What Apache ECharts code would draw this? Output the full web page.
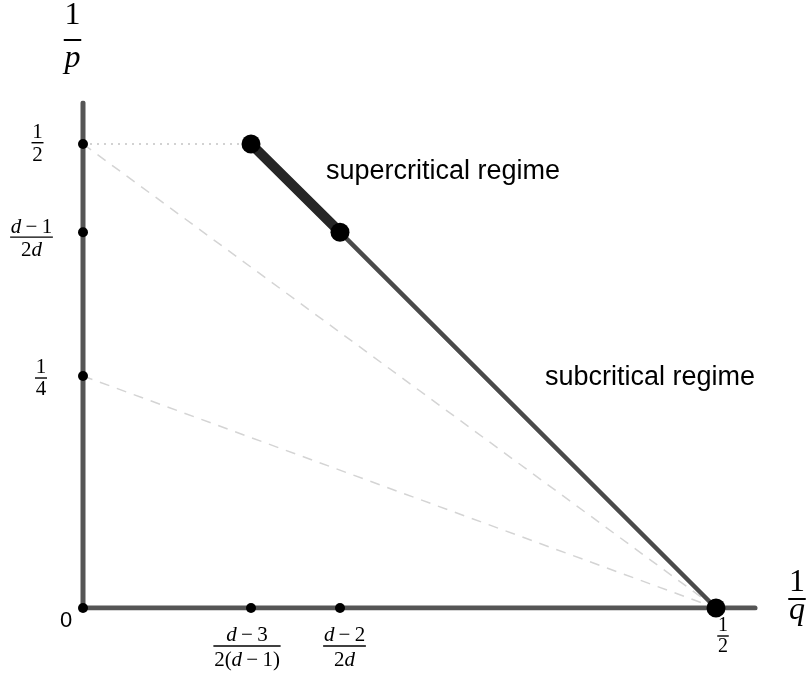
<!DOCTYPE html>
<html><head><meta charset="utf-8">
<script src="https://cdn.jsdelivr.net/npm/echarts@6/dist/echarts.min.js"></script>
<style>html,body{margin:0;padding:0;background:#fff}#c{width:806px;height:675px}</style>
</head><body><div id="c"></div>
<script>
// ---------- data ----------
const X_MAX = 0.5308;            // right end of the 1/q axis
const Y_MAX = 0.5442;            // top end of the 1/p axis
const yTickValues = [0.5, 0.405, 0.25];
const yTickNum = ['1', 'd−1', '1'];
const yTickDen = ['2', '2d', '4'];
const xTickValues = [0.1327, 0.203, 0.5];
const xTickNum = ['d−3', 'd−2', '1'];
const xTickDen = ['2(d−1)', '2d', '2'];
const originLabel = '0';
const boundaryQ = [0.1327, 0.203, 0.5];   // corner points of the boundary line
const boundaryP = [0.5, 0.405, 0];
const dashFromP = [0.5, 0.25];            // dashed guides from (0,p) to (1/2,0)
const dashToQ = 0.5;
const regionLabels = ['supercritical regime', 'subcritical regime'];
const regionQ = [0.1919, 0.3649];
const regionP = [0.4703, 0.2480];
const axisTitleNum = ['1', '1'];
const axisTitleDen = ['q', 'p'];

// ---------- layout / style (pixel offsets of labels) ----------
// [dx, dy, fontSize, numerator baseline gap, denominator baseline gap, bar width]
const yTickLayout = [[-45.5, -1.3, 21, 3.4, 19.5, 1.4], [-51.5, 5, 21, 2.5, 20, 1.4], [-42, 2, 21, 3.4, 18.5, 1.4]];
const xTickLayout = [[-4, 38, 21, 3, 21.5, 1.4], [4.5, 38, 21, 3, 21.5, 1.4], [7, 28, 20, 4, 17.5, 1.4]];
const axisTitleLayout = [[42, -9, 32, 6, 22, 2], [-10.5, -63, 32, 14, 29, 2]];
const SERIF = '"Liberation Serif", "DejaVu Serif", serif';
const SANS = '"Liberation Sans", Arial, sans-serif';

// ---------- helpers ----------
const ctx = document.createElement('canvas').getContext('2d');
function typeset(s) { return s.replace(/−/g, '\u2009−\u2009'); }
function segs(s) { return s.match(/[a-z]+|[^a-z]+/g) || []; }
function measure(s, fs) {
  let w = 0;
  segs(typeset(s)).forEach(t => {
    ctx.font = (/[a-z]/.test(t) ? 'italic ' : '') + fs + 'px ' + SERIF;
    w += ctx.measureText(t).width;
  });
  return w;
}
function toRich(s) { return segs(typeset(s)).map(t => (/[a-z]/.test(t) ? '{i|' : '{r|') + t + '}').join(''); }
function richFor(fs) {
  return {
    i: { fontFamily: SERIF, fontStyle: 'italic', fontSize: fs, lineHeight: fs, fill: '#000', color: '#000' },
    r: { fontFamily: SERIF, fontSize: fs, lineHeight: fs, fill: '#000', color: '#000' }
  };
}

// build fraction items
const fracItems = [];
function addFrac(x, y, num, den, L) {
  fracItems.push({ x: x, y: y, num: num, den: den, dx: L[0], dy: L[1], fs: L[2], gn: L[3], gd: L[4], lw: L[5] });
}
yTickValues.forEach((v, i) => addFrac(0, v, yTickNum[i], yTickDen[i], yTickLayout[i]));
xTickValues.forEach((v, i) => addFrac(v, 0, xTickNum[i], xTickDen[i], xTickLayout[i]));
addFrac(X_MAX, 0, axisTitleNum[0], axisTitleDen[0], axisTitleLayout[0]);
addFrac(0, Y_MAX, axisTitleNum[1], axisTitleDen[1], axisTitleLayout[1]);

const smallDots = yTickValues.map(v => [0, v]).concat([[0, 0]], xTickValues.slice(0, 2).map(v => [v, 0]));
const bigDots = boundaryQ.map((q, i) => [q, boundaryP[i]]);

const chart = echarts.init(document.getElementById('c'), null, { renderer: 'canvas' });
const series = [];
const lineCommon = { type: 'line', showSymbol: false, silent: true };
// axes as thick lines
series.push(Object.assign({}, lineCommon, { data: [[0, 0], [X_MAX, 0]], z: 3, lineStyle: { color: '#555', width: 5, cap: 'round', opacity: 1 } }));
series.push(Object.assign({}, lineCommon, { data: [[0, 0], [0, Y_MAX]], z: 3, lineStyle: { color: '#555', width: 5, cap: 'round', opacity: 1 } }));
// dashed guides
dashFromP.forEach(p => series.push(Object.assign({}, lineCommon, { data: [[0, p], [dashToQ, 0]], z: 2,
  lineStyle: { color: '#d4d4d4', width: 1.5, type: [10, 8] } })));
// dotted guide
series.push(Object.assign({}, lineCommon, { data: [[0, boundaryP[0]], [boundaryQ[0], boundaryP[0]]], z: 2,
  lineStyle: { color: '#c4c4c4', width: 1.5, type: [2, 5] } }));
// boundary: thin part then thick part
series.push(Object.assign({}, lineCommon, { data: [[boundaryQ[1], boundaryP[1]], [boundaryQ[2], boundaryP[2]]], z: 4,
  lineStyle: { color: '#4a4a4a', width: 4.5, cap: 'round' } }));
series.push(Object.assign({}, lineCommon, { data: [[boundaryQ[0], boundaryP[0]], [boundaryQ[1], boundaryP[1]]], z: 4,
  lineStyle: { color: '#262626', width: 10, cap: 'round' } }));
// dots
series.push({ type: 'scatter', data: smallDots, symbolSize: 10, itemStyle: { color: '#000', opacity: 1 }, z: 6, silent: true });
series.push({ type: 'scatter', data: bigDots, symbolSize: 19, itemStyle: { color: '#000', opacity: 1 }, z: 6, silent: true });
// text labels (region names, origin)
series.push({ type: 'custom', clip: false, silent: true, z: 7,
  data: regionQ.map((q, i) => [q, regionP[i]]).concat([[0, 0]]),
  encode: { x: 0, y: 1 },
  renderItem: function (params, api) {
    const p = api.coord([api.value(0), api.value(1)]);
    const i = params.dataIndex;
    if (i < regionLabels.length) {
      return { type: 'text', style: { text: regionLabels[i], x: p[0], y: p[1], align: 'left', verticalAlign: 'middle',
        font: '27px ' + SANS, fill: '#000' } };
    }
    return { type: 'text', style: { text: originLabel, x: p[0] - 17, y: p[1] + 13, align: 'center', verticalAlign: 'middle',
      font: '22px ' + SANS, fill: '#000' } };
  }
});
// fractions (tick labels and axis titles)
series.push({ type: 'custom', clip: false, silent: true, z: 8,
  data: fracItems.map(f => [f.x, f.y]),
  encode: { x: 0, y: 1 },
  renderItem: function (params, api) {
    const f = fracItems[params.dataIndex];
    const p = api.coord([api.value(0), api.value(1)]);
    const cx = p[0] + f.dx, cy = p[1] + f.dy;
    const w = Math.max(measure(f.num, f.fs), measure(f.den, f.fs)) + 1.5;
    const mid = 0.3375 * f.fs;   // 'middle' -> alphabetic baseline shift
    return { type: 'group', children: [
      { type: 'text', style: { text: toRich(f.num), rich: richFor(f.fs), x: cx, y: cy - f.gn - mid, align: 'center', verticalAlign: 'middle', font: f.fs + 'px ' + SERIF, fill: '#000' } },
      { type: 'line', shape: { x1: cx - w / 2, y1: cy, x2: cx + w / 2, y2: cy }, style: { stroke: '#000', lineWidth: f.lw } },
      { type: 'text', style: { text: toRich(f.den), rich: richFor(f.fs), x: cx, y: cy + f.gd - mid, align: 'center', verticalAlign: 'middle', font: f.fs + 'px ' + SERIF, fill: '#000' } }
    ] };
  }
});

chart.setOption({
  animation: false,
  backgroundColor: '#fff',
  grid: { left: 83, top: 103, width: 672, height: 505 },
  xAxis: { type: 'value', min: 0, max: X_MAX, show: false },
  yAxis: { type: 'value', min: 0, max: Y_MAX, show: false },
  series: series
});
</script>
</body></html>
